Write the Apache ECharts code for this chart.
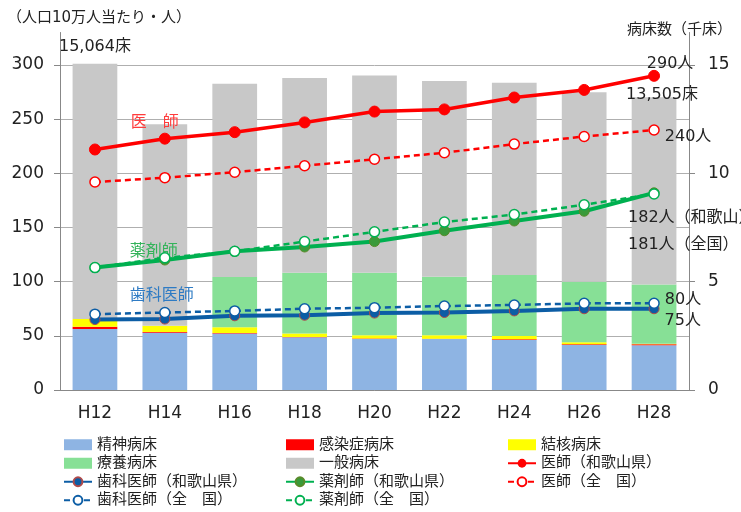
<!DOCTYPE html>
<html>
<head>
<meta charset="utf-8">
<script src="https://cdn.jsdelivr.net/npm/echarts@6/dist/echarts.min.js"></script>
<style>
  html, body { margin: 0; padding: 0; background: #fff; }
  #chart { width: 741px; height: 512px; }
</style>
</head>
<body>
<div id="chart"></div>
<script>
var FONT = "'DejaVu Sans', 'Noto Sans CJK JP', sans-serif";

var years = ['H12', 'H14', 'H16', 'H18', 'H20', 'H22', 'H24', 'H26', 'H28'];

// 病床数（千床）
var seishin  = [2.82, 2.64, 2.61, 2.43, 2.35, 2.35, 2.31, 2.08, 2.06];
var kansen   = [0.10, 0.04, 0.02, 0.02, 0.03, 0.02, 0.03, 0.03, 0.05];
var kekkaku  = [0.36, 0.29, 0.27, 0.16, 0.15, 0.16, 0.15, 0.09, 0.02];
var ryoyo    = [0,    0,    2.32, 2.80, 2.88, 2.70, 2.82, 2.80, 2.74];
var ippan    = [11.78, 9.30, 8.92, 8.99, 9.11, 9.03, 8.87, 8.74, 8.64];

// 人口10万人当たり・人
var ishiW     = [222, 232, 238, 247, 257, 259, 270, 277, 290];
var shikaW    = [65, 65.5, 68.5, 69, 71, 71.5, 73, 75, 75];
var yakuW     = [113, 120, 128, 132, 137, 147, 156, 165, 182];
var ishiZ     = [192, 196, 201, 207, 213, 219, 227, 234, 240];
var shikaZ    = [70, 71.5, 73, 75, 76, 77.5, 78.5, 80, 80];
var yakuZ     = [113, 122, 128, 137, 146, 155, 162, 171, 181];

var bedNames = ['精神病床', '感染症病床', '結核病床', '療養病床', '一般病床'];

// 一部の点だけにラベルを付ける
function withLabels(values, labels) {
  return values.map(function (v, i) {
    return labels[i] ? { value: v, label: labels[i] } : v;
  });
}

function legendCol(left, names) {
  return {
    orient: 'vertical', left: left, top: 436, padding: 0,
    itemWidth: 28, itemHeight: 11, itemGap: 1,
    textStyle: { fontFamily: FONT, fontSize: 15, color: '#222', lineHeight: 17.5 },
    data: names.map(function (n) {
      return bedNames.indexOf(n) >= 0 ? { name: n, icon: 'rect' } : n;
    })
  };
}

var chart = echarts.init(document.getElementById('chart'));

var option = {
  animation: false,
  textStyle: { fontFamily: FONT },
  title: [
    { text: '（人口10万人当たり・人）', left: 2, top: 6,
      textStyle: { fontFamily: FONT, fontSize: 15, fontWeight: 'normal', color: '#222' } },
    { text: '病床数（千床）', left: 622, top: 18,
      textStyle: { fontFamily: FONT, fontSize: 15, fontWeight: 'normal', color: '#222' } }
  ],
  grid: { left: 60, right: 52, top: 32.5, bottom: 122 },
  legend: [
    legendCol(63, ['精神病床', '療養病床', '歯科医師（和歌山県）', '歯科医師（全　国）']),
    legendCol(285, ['感染症病床', '一般病床', '薬剤師（和歌山県）', '薬剤師（全　国）']),
    legendCol(507, ['結核病床', '医師（和歌山県）', '医師（全　国）'])
  ],
  xAxis: {
    type: 'category',
    data: years,
    axisLine: { lineStyle: { color: '#888' } },
    axisTick: { length: 6, interval: 0, lineStyle: { color: '#888' } },
    axisLabel: { fontFamily: FONT, fontSize: 17, color: '#222', margin: 15 }
  },
  yAxis: [
    {
      type: 'value', min: 0, max: 330, interval: 50,
      axisLine: { show: true, lineStyle: { color: '#888' } },
      axisTick: { show: true, length: 6, lineStyle: { color: '#888' } },
      axisLabel: { fontFamily: FONT, fontSize: 17, color: '#222', margin: 16, showMaxLabel: false },
      splitLine: { show: true, showMaxLine: false, lineStyle: { color: '#AFAFAF' } }
    },
    {
      type: 'value', min: 0, max: 16.5, interval: 5,
      axisLine: { show: true, lineStyle: { color: '#888' } },
      axisTick: { show: true, length: 6, lineStyle: { color: '#888' } },
      axisLabel: { fontFamily: FONT, fontSize: 17, color: '#222', margin: 19, showMaxLabel: false },
      splitLine: { show: false }
    }
  ],
  series: [
    { name: '精神病床', type: 'bar', stack: 'beds', yAxisIndex: 1, barCategoryGap: '36%',
      itemStyle: { color: '#8EB4E3' }, data: seishin },
    { name: '感染症病床', type: 'bar', stack: 'beds', yAxisIndex: 1,
      itemStyle: { color: '#FF0000' }, data: kansen },
    { name: '結核病床', type: 'bar', stack: 'beds', yAxisIndex: 1,
      itemStyle: { color: '#FFFF00' }, data: kekkaku },
    { name: '療養病床', type: 'bar', stack: 'beds', yAxisIndex: 1,
      itemStyle: { color: '#87E096' }, data: ryoyo },
    { name: '一般病床', type: 'bar', stack: 'beds', yAxisIndex: 1,
      itemStyle: { color: '#C8C8C8' },
      data: withLabels(ippan, {
        0: { show: true, position: 'top', offset: [0, -4], formatter: '15,064床', fontFamily: FONT, fontSize: 16, color: '#222' },
        8: { show: true, position: 'top', offset: [8, 11], formatter: '13,505床', fontFamily: FONT, fontSize: 16, color: '#222' }
      }) },

    { name: '医師（和歌山県）', type: 'line', symbol: 'circle', symbolSize: 11, z: 5,
      lineStyle: { color: '#FF0000', width: 3.5 },
      itemStyle: { color: '#FF0000', borderColor: '#FF0000' },
      data: withLabels(ishiW, {
        1: { show: true, position: 'top', offset: [-10, 3], formatter: '医　師', fontFamily: FONT, fontSize: 16, color: '#FF3B3B' },
        8: { show: true, position: 'top', offset: [16, 7], formatter: '290人', fontFamily: FONT, fontSize: 16, color: '#222' }
      }) },
    { name: '歯科医師（和歌山県）', type: 'line', symbol: 'circle', symbolSize: 10, z: 5,
      lineStyle: { color: '#0C5DA5', width: 4 },
      itemStyle: { color: '#0C5DA5', borderColor: '#B04A4A', borderWidth: 1 },
      data: withLabels(shikaW, {
        8: { show: true, position: 'right', offset: [0, 12], formatter: '75人', fontFamily: FONT, fontSize: 16, color: '#222' }
      }) },
    { name: '薬剤師（和歌山県）', type: 'line', symbol: 'circle', symbolSize: 10, z: 5,
      lineStyle: { color: '#00B050', width: 4 },
      itemStyle: { color: '#3A9A3A', borderColor: '#5A8A2A', borderWidth: 1 },
      data: withLabels(yakuW, {
        1: { show: true, position: 'top', offset: [-11, 10], formatter: '薬剤師', fontFamily: FONT, fontSize: 16, color: '#33B35A' },
        8: { show: true, position: 'bottom', align: 'left', offset: [-26, 7], formatter: '182人（和歌山）', fontFamily: FONT, fontSize: 16, color: '#222' }
      }) },
    { name: '医師（全　国）', type: 'line', symbol: 'circle', symbolSize: 10, z: 6,
      lineStyle: { color: '#FF0000', width: 2.5, type: [6, 4] },
      itemStyle: { color: '#FFFFFF', borderColor: '#FF0000', borderWidth: 1.5 },
      data: withLabels(ishiZ, {
        8: { show: true, position: 'right', offset: [0, 7], formatter: '240人', fontFamily: FONT, fontSize: 16, color: '#222' }
      }) },
    { name: '歯科医師（全　国）', type: 'line', symbol: 'circle', symbolSize: 10, z: 6,
      lineStyle: { color: '#0C5DA5', width: 2.5, type: [6, 4] },
      itemStyle: { color: '#FFFFFF', borderColor: '#0C5DA5', borderWidth: 1.5 },
      data: withLabels(shikaZ, {
        1: { show: true, position: 'top', offset: [-3, 2], formatter: '歯科医師', fontFamily: FONT, fontSize: 16, color: '#2E7BC4' },
        8: { show: true, position: 'right', offset: [0, -3], formatter: '80人', fontFamily: FONT, fontSize: 16, color: '#222' }
      }) },
    { name: '薬剤師（全　国）', type: 'line', symbol: 'circle', symbolSize: 10, z: 6,
      lineStyle: { color: '#00B050', width: 2.5, type: [6, 4] },
      itemStyle: { color: '#FFFFFF', borderColor: '#00B050', borderWidth: 1.5 },
      data: withLabels(yakuZ, {
        8: { show: true, position: 'bottom', align: 'left', offset: [-26, 32], formatter: '181人（全国）', fontFamily: FONT, fontSize: 16, color: '#222' }
      }) }
  ]
};

chart.setOption(option);
</script>
</body>
</html>
